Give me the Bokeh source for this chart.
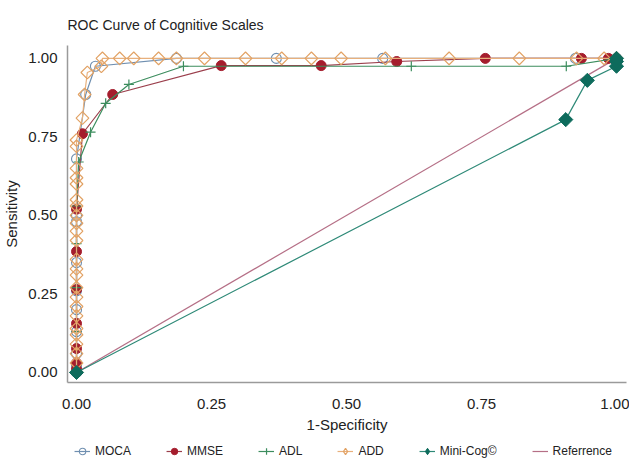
import numpy as np
from bokeh.plotting import figure
from bokeh.models import Range1d, Legend, LegendItem
from bokeh.layouts import column
from bokeh.embed import file_html
from bokeh.resources import INLINE

# ---------------- data ----------------
moca_x = [0, 0, 0, 0, 0, 0, 0, 0, 0, 0, 0.017, 0.035, 0.185, 0.37, 0.567, 0.924, 1.0]
moca_y = [0, 0.02, 0.06, 0.13, 0.20, 0.26, 0.35, 0.48, 0.50, 0.68, 0.885, 0.975, 1.0, 1.0, 1.0, 1.0, 1.0]

mmse_x = [0, 0, 0, 0, 0, 0, 0, 0, 0.011, 0.067, 0.268, 0.453, 0.593, 0.757, 0.935, 0.985, 1.0]
mmse_y = [0, 0.01, 0.03, 0.076, 0.156, 0.264, 0.385, 0.52, 0.76, 0.885, 0.977, 0.977, 0.99, 1.0, 1.0, 1.0, 1.0]

adl_x = [0, 0, 0, 0, 0, 0.004, 0.026, 0.054, 0.097, 0.198, 0.62, 0.907, 1.0]
adl_y = [0, 0.13, 0.27, 0.41, 0.53, 0.67, 0.765, 0.857, 0.917, 0.975, 0.975, 0.975, 1.0]

add_x = [0, 0, 0, 0, 0, 0, 0, 0, 0, 0, 0, 0, 0, 0, 0, 0, 0, 0, 0, 0, 0, 0, 0, 0,
         0.011, 0.015, 0.02, 0.046, 0.048, 0.08, 0.106, 0.152, 0.185, 0.237, 0.313,
         0.38, 0.435, 0.49, 0.572, 0.69, 0.82, 0.926, 0.977, 1.0]
add_y = [0, 0.03, 0.06, 0.09, 0.12, 0.14, 0.18, 0.21, 0.24, 0.27, 0.31, 0.33, 0.36,
         0.42, 0.45, 0.475, 0.50, 0.53, 0.55, 0.60, 0.62, 0.65, 0.72, 0.74,
         0.81, 0.885, 0.955, 0.975, 1.0, 1.0, 1.0, 1.0, 1.0, 1.0, 1.0,
         1.0, 1.0, 1.0, 1.0, 1.0, 1.0, 1.0, 1.0, 1.0]

minicog_x = [0, 0.906, 0.946, 1.0, 1.0, 1.0]
minicog_y = [0, 0.805, 0.93, 0.975, 0.99, 1.0]

ref_x = [0, 1]
ref_y = [0, 1]

x_ticks = [0, 0.25, 0.5, 0.75, 1.0]
y_ticks = [0, 0.25, 0.5, 0.75, 1.0]
tick_labels = {0: "0.00", 0.25: "0.25", 0.5: "0.50", 0.75: "0.75", 1.0: "1.00"}

series_names = ["MOCA", "MMSE", "ADL", "ADD", "Mini-Cog©", "Referrence"]

# ---------------- styles ----------------
FONT = "Liberation Sans"
C_MOCA = "#6f8fb0"
C_MMSE = "#a51d2d"
C_MMSE_L = "#9b3f4c"
C_ADL = "#3c8d5e"
C_ADD = "#e2a264"
C_ADD_L = "#e8b07c"
C_MINI = "#0d6b5c"
C_MINI_L = "#2f8a78"
C_REF = "#b56f86"

DATA = (moca_x, moca_y, mmse_x, mmse_y, adl_x, adl_y, add_x, add_y,
        minicog_x, minicog_y, ref_x, ref_y)

# ---------------- main figure ----------------
p = figure(frame_width=559, frame_height=337, output_backend="svg",
           toolbar_location=None,
           x_range=Range1d(-0.0167, 1.0185), y_range=Range1d(-0.032, 1.041),
           title="ROC Curve of Cognitive Scales",
           min_border_left=60, min_border_right=3, min_border_top=45,
           min_border_bottom=55)

p.title.text_font = FONT
p.title.text_font_size = "14px"
p.title.text_font_style = "normal"
p.title.text_color = "#222222"
p.title.align = "left"
p.title.standoff = 26

p.xgrid.visible = False
p.ygrid.visible = False
p.outline_line_color = None
p.background_fill_color = "white"
p.border_fill_color = "white"

for ax in (p.xaxis[0], p.yaxis[0]):
    ax.axis_line_color = "#9a9a9a"
    ax.axis_line_width = 1.5
    ax.major_tick_line_color = None
    ax.minor_tick_line_color = None
    ax.major_tick_in = 0
    ax.major_tick_out = 0
    ax.major_label_text_font = FONT
    ax.major_label_text_font_size = "15px"
    ax.major_label_text_color = "#222222"
    ax.axis_label_text_font = FONT
    ax.axis_label_text_font_size = "15px"
    ax.axis_label_text_font_style = "normal"
    ax.axis_label_text_color = "#222222"

p.xaxis.ticker = x_ticks
p.yaxis.ticker = y_ticks
p.xaxis.major_label_overrides = tick_labels
p.yaxis.major_label_overrides = tick_labels
p.xaxis.axis_label = "1-Specificity"
p.yaxis.axis_label = "Sensitivity"
p.xaxis.major_label_standoff = 16
p.yaxis.major_label_standoff = 10
p.xaxis.axis_label_standoff = 4
p.yaxis.axis_label_standoff = 5

def draw(fig, data, legend_strip=False):
    (mx, my, nx, ny, ax_, ay, dx, dy, gx, gy, rx, ry) = data
    if legend_strip:
        dia = dict(marker="diamond", size=14)
    else:
        dia = dict(marker="square", angle=np.pi / 4, size=9)
    r_ref = fig.line(rx, ry, line_color=C_REF, line_width=1.2)
    l_moca = fig.line(mx, my, line_color=C_MOCA, line_width=1.2)
    s_moca = fig.scatter(mx, my, marker="circle", size=10, fill_alpha=0,
                         line_color=C_MOCA, line_width=1.1)
    l_mmse = fig.line(nx, ny, line_color=C_MMSE_L, line_width=1.2)
    s_mmse = fig.scatter(nx, ny, marker="circle", size=10, fill_color=C_MMSE,
                         line_color=C_MMSE)
    l_adl = fig.line(ax_, ay, line_color=C_ADL, line_width=1.2)
    s_adl = fig.scatter(ax_, ay, marker="cross", size=10, line_color=C_ADL,
                        line_width=1.2)
    l_add = fig.line(dx, dy, line_color=C_ADD_L, line_width=1.2)
    s_add = fig.scatter(dx, dy, fill_alpha=0, line_color=C_ADD, line_width=1.2,
                        **dia)
    l_mini = fig.line(gx, gy, line_color=C_MINI_L, line_width=1.2)
    s_mini = fig.scatter(gx, gy, fill_color=C_MINI, line_color=C_MINI,
                         **dict(dia, size=dia["size"] + 1))
    return [[l_moca, s_moca], [l_mmse, s_mmse], [l_adl, s_adl],
            [l_add, s_add], [l_mini, s_mini], [r_ref]]

draw(p, DATA)

# ---------------- legend strip (same series, ranges keep marks out of view) ----
lg = figure(width=622, height=22, output_backend="svg", toolbar_location=None,
            x_range=Range1d(5, 6), y_range=Range1d(5, 6),
            x_axis_type=None, y_axis_type=None, min_border=0)
lg.xgrid.visible = False
lg.ygrid.visible = False
lg.outline_line_color = None
lg.border_fill_color = "white"
rends = draw(lg, DATA, legend_strip=True)

legend = Legend(items=[LegendItem(label=n, renderers=r)
                       for n, r in zip(series_names, rends)],
                orientation="horizontal", location="bottom_center")
legend.border_line_color = None
legend.background_fill_alpha = 0
legend.label_text_font = FONT
legend.label_text_font_size = "12px"
legend.label_text_color = "#222222"
legend.glyph_width = 16
legend.glyph_height = 16
legend.label_height = 14
legend.label_standoff = 5
legend.spacing = 35
legend.padding = 1
legend.margin = 0
lg.add_layout(legend, "center")

layout = column(p, lg, spacing=0)
open("out.html", "w").write(file_html(layout, INLINE))
